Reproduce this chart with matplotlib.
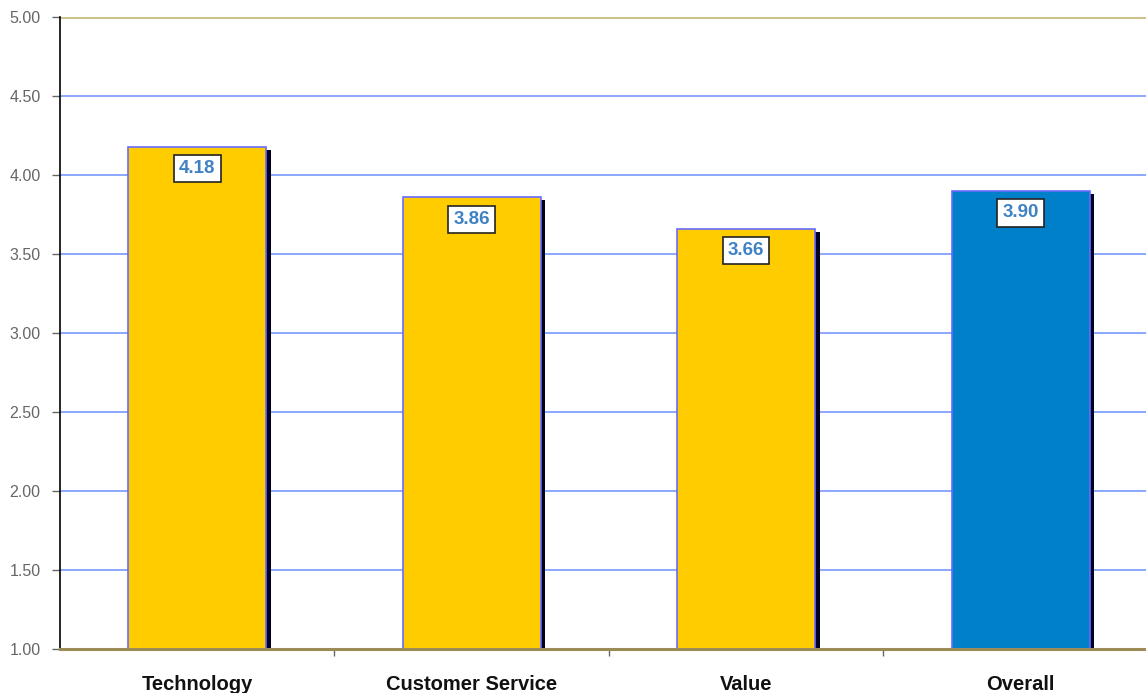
import matplotlib.pyplot as plt
import numpy as np

plt.rcParams['font.family'] = ['Liberation Sans', 'DejaVu Sans']

categories = ['Technology', 'Customer Service', 'Value', 'Overall']
scores = [4.18, 3.86, 3.66, 3.90]
bar_colors = ['#ffcc00', '#ffcc00', '#ffcc00', '#0080c8']
y_ticks = [1.0, 1.5, 2.0, 2.5, 3.0, 3.5, 4.0, 4.5, 5.0]

fig = plt.figure(figsize=(11.46, 6.93), dpi=100)
ax = fig.add_axes([60 / 1146, 44 / 693, 1098 / 1146, 632 / 693])
ax.set_facecolor('white')

x = np.arange(len(categories))
base = 1.0

# gridlines
for y in y_ticks[1:-1]:
    ax.axhline(y, color='#7799ff', linewidth=1.2, zorder=1)
ax.axhline(5.0, color='#cfc28a', linewidth=2.2, zorder=1)

# shadow then bars
ax.bar(x + 0.016, np.array(scores) - base - 0.02, width=0.503, bottom=base,
       color='#000022', zorder=2)
ax.bar(x, np.array(scores) - base, width=0.503, bottom=base, color=bar_colors,
       edgecolor='#6a6aff', linewidth=1.2, zorder=3)

for xi, v in zip(x, scores):
    ax.annotate(f'{v:.2f}', (xi, v), xytext=(0, -14.5), textcoords='offset points',
                ha='center', va='center_baseline', fontsize=13.5, fontweight='bold',
                color='#3f82c4', zorder=5,
                bbox=dict(boxstyle='square,pad=0.27', facecolor='white',
                          edgecolor='#222222', linewidth=1.2))

ax.set_xlim(-0.5, 3.5)
ax.set_ylim(1.0, 5.0)
ax.set_yticks(y_ticks)
ax.set_yticklabels([f'{t:.2f}' for t in y_ticks], fontsize=11.5, color='#666666')
ax.tick_params(axis='y', direction='out', length=6, color='#666666', width=1, pad=8)

ax.set_xticks([0.5, 1.5, 2.5, 3.5])
ax.set_xticklabels([])
ax.tick_params(axis='x', direction='out', length=5, color='#666666', width=1)
for xi, c in zip(x, categories):
    ax.text(xi, -0.041, c, transform=ax.get_xaxis_transform(), ha='center', va='top',
            fontsize=14.5, fontweight='bold', color='#111111')

ax.spines['top'].set_visible(False)
ax.spines['right'].set_visible(False)
ax.spines['left'].set_color('black')
ax.spines['left'].set_linewidth(1.2)
ax.spines['bottom'].set_color('#9b8c55')
ax.spines['bottom'].set_linewidth(2.2)
ax.spines['bottom'].set_zorder(4)

fig.savefig('out.png', dpi=100)
